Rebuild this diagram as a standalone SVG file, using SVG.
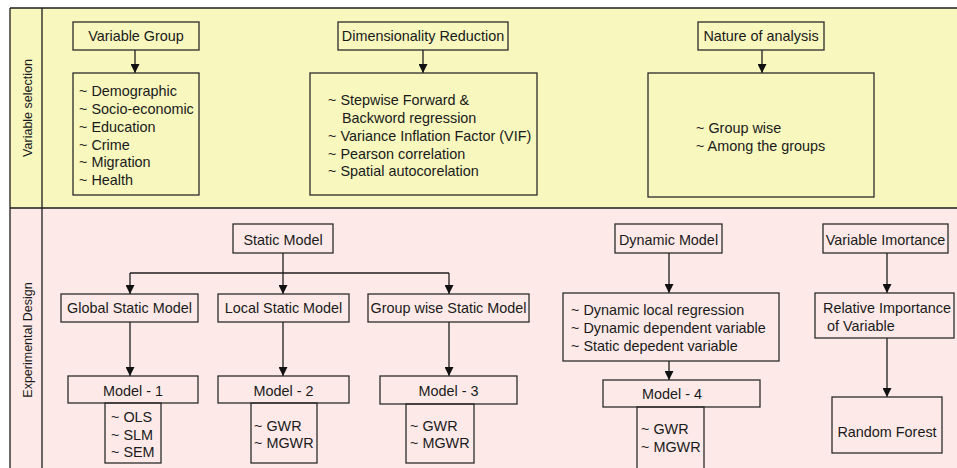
<svg xmlns="http://www.w3.org/2000/svg" width="957" height="468" viewBox="0 0 957 468">
<defs>
<style>
.bx{fill:none;stroke:#2b2b2b;stroke-width:1.3}
.ln{fill:none;stroke:#1e1e1e;stroke-width:1.3}
text{font-family:"Liberation Sans",Arial,sans-serif;font-size:14.4px;fill:#1a1a1a}
.c{text-anchor:middle}
.side{font-size:12.5px;text-anchor:middle}
</style>
<marker id="ah" viewBox="0 0 10 10" refX="10" refY="5" markerWidth="10" markerHeight="9" markerUnits="userSpaceOnUse" orient="auto">
<path d="M0,0 L10,5 L0,10 z" fill="#111"/>
</marker>
</defs>
<rect x="0" y="0" width="957" height="468" fill="#ffffff"/>
<rect x="10" y="8" width="950" height="200" fill="#F7F7BE"/>
<rect x="10" y="208" width="950" height="262" fill="#FDEAE8"/>
<g id="frame" class="ln">
<path d="M10,8 H960 M10,208 H960 M10,8 V470 M42,8 V470"/>
</g>
<g id="lbl-vs"><text class="side" transform="translate(31.5,108) rotate(-90)">Variable selection</text></g>
<g id="lbl-ed"><text class="side" transform="translate(31.5,340) rotate(-90)">Experimental Design</text></g>

<g id="connectors" class="ln">
<line x1="135" y1="50" x2="135" y2="73" marker-end="url(#ah)"/>
<line x1="423" y1="50" x2="423" y2="73" marker-end="url(#ah)"/>
<line x1="762" y1="50" x2="762" y2="73" marker-end="url(#ah)"/>
<line x1="283" y1="253" x2="283" y2="273"/>
<line x1="130" y1="273" x2="449" y2="273"/>
<line x1="130" y1="273" x2="130" y2="294" marker-end="url(#ah)"/>
<line x1="283" y1="273" x2="283" y2="294" marker-end="url(#ah)"/>
<line x1="449" y1="273" x2="449" y2="294" marker-end="url(#ah)"/>
<line x1="130" y1="322" x2="130" y2="376" marker-end="url(#ah)"/>
<line x1="283" y1="322" x2="283" y2="376" marker-end="url(#ah)"/>
<line x1="449" y1="322" x2="449" y2="376" marker-end="url(#ah)"/>
<line x1="669" y1="253" x2="669" y2="293" marker-end="url(#ah)"/>
<line x1="669" y1="361" x2="669" y2="380" marker-end="url(#ah)"/>
<line x1="887" y1="253" x2="887" y2="293" marker-end="url(#ah)"/>
<line x1="887" y1="338" x2="887" y2="397" marker-end="url(#ah)"/>
</g>

<g id="n-vargroup"><rect class="bx" x="73" y="22" width="126" height="28"/><text class="c" x="136" y="41">Variable Group</text></g>
<g id="n-varlist"><rect class="bx" x="73" y="73" width="126" height="122"/>
<text x="79" y="96">~ Demographic</text>
<text x="79" y="114">~ Socio-economic</text>
<text x="79" y="132">~ Education</text>
<text x="79" y="149.5">~ Crime</text>
<text x="79" y="167">~ Migration</text>
<text x="79" y="185">~ Health</text>
</g>
<g id="n-dimred"><rect class="bx" x="338" y="22" width="170" height="28"/><text class="c" x="423" y="41">Dimensionality Reduction</text></g>
<g id="n-dimlist"><rect class="bx" x="310" y="73" width="227" height="122"/>
<text x="328" y="105">~ Stepwise Forward &amp;</text>
<text x="342" y="123">Backword regression</text>
<text x="328" y="141">~ Variance Inflation Factor (VIF)</text>
<text x="328" y="158.5">~ Pearson correlation</text>
<text x="328" y="176">~ Spatial autocorelation</text>
</g>
<g id="n-nature"><rect class="bx" x="698" y="22" width="126" height="28"/><text class="c" x="761" y="41">Nature of analysis</text></g>
<g id="n-naturelist"><rect class="bx" x="648" y="73" width="226" height="124"/>
<text x="696" y="133">~ Group wise</text>
<text x="696" y="151">~ Among the groups</text>
</g>

<g id="n-static"><rect class="bx" x="233" y="224" width="100" height="29"/><text class="c" x="283" y="245">Static Model</text></g>
<g id="n-global"><rect class="bx" x="61" y="294" width="137" height="28"/><text class="c" x="129.5" y="313">Global Static Model</text></g>
<g id="n-local"><rect class="bx" x="218" y="294" width="131" height="28"/><text class="c" x="283.5" y="313">Local Static Model</text></g>
<g id="n-group"><rect class="bx" x="368" y="294" width="161" height="28"/><text class="c" x="448.5" y="313">Group wise Static Model</text></g>
<g id="n-model1"><rect class="bx" x="68" y="376" width="130" height="27"/><text class="c" x="133" y="396">Model - 1</text></g>
<g id="n-model1-list"><rect class="bx" x="105" y="403" width="56" height="60"/>
<text x="111" y="422">~ OLS</text><text x="111" y="439.5">~ SLM</text><text x="111" y="457">~ SEM</text></g>
<g id="n-model2"><rect class="bx" x="218" y="376" width="131" height="27"/><text class="c" x="283.5" y="396">Model - 2</text></g>
<g id="n-model2-list"><rect class="bx" x="251" y="403" width="66" height="60"/>
<text x="254" y="431">~ GWR</text><text x="254" y="448">~ MGWR</text></g>
<g id="n-model3"><rect class="bx" x="380" y="376" width="137" height="28"/><text class="c" x="448.5" y="396">Model - 3</text></g>
<g id="n-model3-list"><rect class="bx" x="406" y="404" width="68" height="59"/>
<text x="410" y="431">~ GWR</text><text x="410" y="448">~ MGWR</text></g>

<g id="n-dynamic"><rect class="bx" x="615" y="224" width="107" height="29"/><text class="c" x="668.5" y="245">Dynamic Model</text></g>
<g id="n-dynlist"><rect class="bx" x="563" y="293" width="216" height="68"/>
<text x="571" y="315">~ Dynamic local regression</text>
<text x="571" y="333">~ Dynamic dependent variable</text>
<text x="571" y="351">~ Static depedent variable</text>
</g>
<g id="n-model4"><rect class="bx" x="603" y="380" width="157" height="27"/><text class="c" x="672" y="399">Model - 4</text></g>
<g id="n-model4-list"><rect class="bx" x="637" y="407" width="67" height="70"/>
<text x="641" y="434">~ GWR</text><text x="641" y="452">~ MGWR</text></g>

<g id="n-varimp"><rect class="bx" x="823" y="224" width="125" height="29"/><text class="c" x="885.5" y="245">Variable Imortance</text></g>
<g id="n-relimp"><rect class="bx" x="815" y="293" width="139" height="45"/>
<text x="823" y="313">Relative Importance</text><text x="827" y="331">of Variable</text></g>
<g id="n-rf"><rect class="bx" x="832" y="397" width="110" height="56"/><text class="c" x="887" y="437">Random Forest</text></g>
</svg>
